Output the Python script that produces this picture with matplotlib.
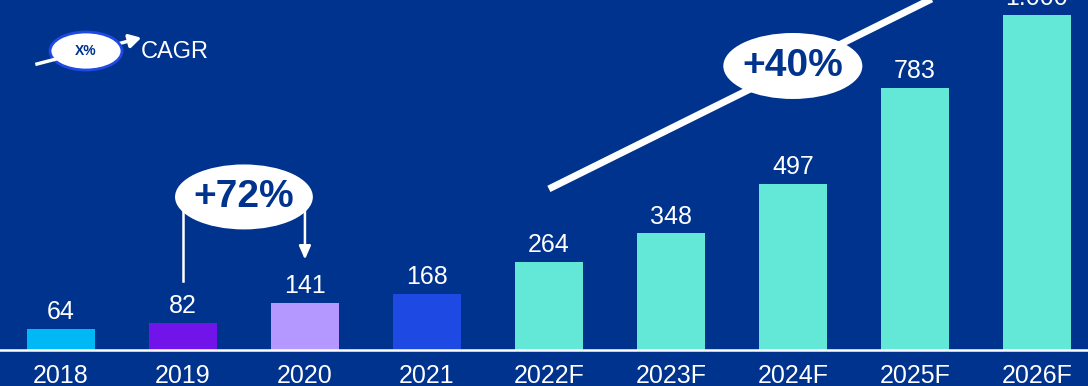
import matplotlib.pyplot as plt
from matplotlib.patches import Ellipse, FancyArrowPatch

years = ['2018', '2019', '2020', '2021', '2022F', '2023F', '2024F', '2025F', '2026F']
values = [64, 82, 141, 168, 264, 348, 497, 783, 1000]
bar_colors = ['#00B8F5', '#7213EA', '#B497FF', '#1E49E2',
              '#63E8D8', '#63E8D8', '#63E8D8', '#63E8D8', '#63E8D8']
cagr_hist = '+72%'
cagr_fcst = '+40%'

bg = '#00338D'
plt.rcParams['font.family'] = ['Liberation Sans', 'DejaVu Sans']

fig = plt.figure(figsize=(10.88, 3.86), dpi=100, facecolor=bg)
ax = fig.add_axes([0, 36 / 386, 1, 350 / 386])
ax.set_facecolor(bg)

x = list(range(len(years)))
ax.bar(x, values, width=0.56, color=bar_colors, zorder=2)

for i, v in zip(x, values):
    lbl = f'{v:,}'.replace(',', '.')
    ax.annotate(lbl, (i, v), xytext=(0, 12), textcoords='offset points',
                ha='center', va='center', color='white', fontsize=18)

ax.set_xlim(-0.5, 8.42)
ax.set_ylim(0, 1045)
ax.set_xticks(x)
ax.set_xticklabels(years, color='white', fontsize=18)
ax.tick_params(axis='x', length=0, pad=10)
ax.set_yticks([])
for s in ['top', 'right', 'left']:
    ax.spines[s].set_visible(False)
ax.spines['bottom'].set_color('white')
ax.spines['bottom'].set_linewidth(1.8)

# historical CAGR bracket 2019 -> 2020
cx, cy = 1.5, 457
ax.plot([1, 1], [206, cy], color='white', lw=1.8, zorder=3)
ax.annotate('', xy=(2, 262), xytext=(2, cy),
            arrowprops=dict(arrowstyle='-|>,head_width=0.35,head_length=0.8',
                            color='white', lw=1.8), zorder=3)
ax.add_patch(Ellipse((cx, cy), 1.13, 194, facecolor='white', edgecolor='none', zorder=4))
ax.text(cx, cy, cagr_hist, ha='center', va='center', color=bg,
        fontsize=28, fontweight='bold', zorder=5)

# forecast CAGR trend line
ax.plot([4, 7.6], [481, 481 + 3.6 * 180.7], color='white', lw=5,
        solid_capstyle='butt', zorder=3)
ax.add_patch(Ellipse((6.0, 848), 1.14, 197, facecolor='white', edgecolor='none', zorder=4))
ax.text(6.0, 848, cagr_fcst, ha='center', va='center', color=bg,
        fontsize=28, fontweight='bold', zorder=5)

# legend icon
W, H = 1088, 386
def fx(px):
    return px / W
def fy(py):
    return 1 - py / H
fig.add_artist(plt.Line2D([fx(37), fx(60)], [fy(64), fy(58)], color='white', lw=2.5))
fig.patches.append(FancyArrowPatch(
    (fx(110), fy(46)), (fx(144), fy(37)), transform=fig.transFigure,
    arrowstyle='-|>,head_width=4,head_length=7', color='white', lw=2.5))
fig.patches.append(Ellipse((fx(86), fy(51)), 72 / W, 38 / H, transform=fig.transFigure,
                           facecolor='white', edgecolor='#1E49E2', lw=2))
fig.text(fx(86), fy(51), 'X%', ha='center', va='center', color=bg,
         fontsize=10, fontweight='bold')
fig.text(fx(141), fy(52), 'CAGR', ha='left', va='center', color='white', fontsize=17)

fig.savefig('out.png', dpi=100, facecolor=bg)
